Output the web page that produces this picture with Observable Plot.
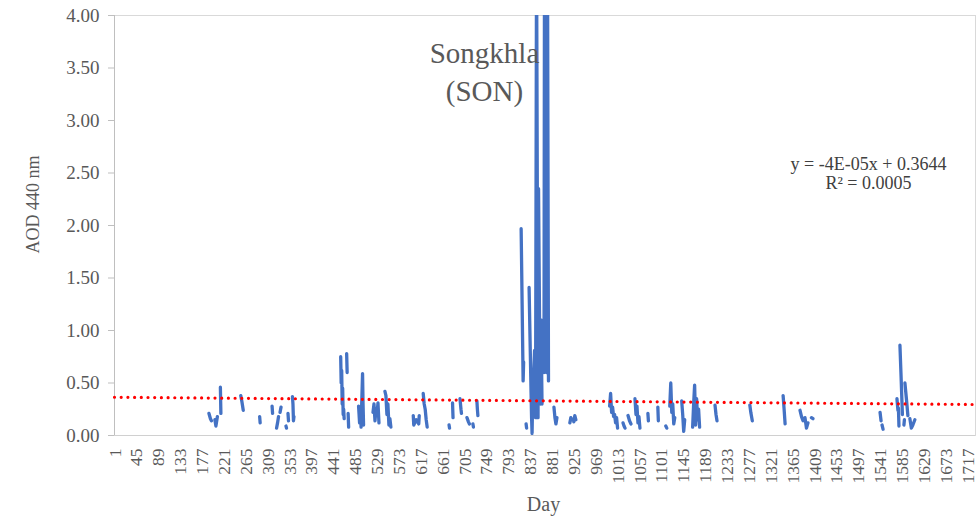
<!DOCTYPE html>
<html><head><meta charset="utf-8">
<script src="https://cdn.jsdelivr.net/npm/d3@7"></script>
<script src="https://cdn.jsdelivr.net/npm/@observablehq/plot@0.6"></script>
<style>body{margin:0;background:#fff} svg{display:block}</style>
</head><body><div id="chart"></div>
<script>
// Daily AOD 440 nm observations; null marks a gap in the record
const day = [
 190,193,195,null, 202,204,207,null, 213,214,null, 254,256,259,null, 292,293,null,
 317,318,null, 326,328,330,null, 333,335,null, 345,346,null, 349,350,null,
 358,359,360,361,null,
 455,456,457,458,459,460,461,462,null, 467,468,null, 470,471,null,
 491,493,495,496,499,500,501,null,
 520,522,524,526,528,530,532,null,
 544,546,548,550,552,554,556,null,
 601,602,607,612,613,null,
 621,623,625,627,629,null,
 673,674,null, 680,681,null, 695,697,698,null, 709,712,714,null, 721,722,null, 729,730,731,null,
 818,820,822,823,null, 828,829,null,
 834,836,838,839,840,841,842,843,845,846,847,849,852,853,855,857,858,860,null,
 864,865,867,869,871,873,null,
 884,886,888,890,null, 916,918,920,null, 924,926,928,null,
 996,998,1000,1002,1004,1006,1008,1010,1012,null,
 1023,1025,1027,null, 1033,1036,1039,null,
 1047,1049,1051,1053,1055,1057,null,
 1073,1074,null, 1093,1094,null, 1109,1111,null,
 1117,1119,1121,1123,1125,1127,null,
 1141,1143,1145,1147,null,
 1163,1165,1167,1169,1171,1173,1175,1177,null,
 1208,1210,1212,null, 1278,1280,1283,null, 1345,1347,1349,null,
 1379,1382,1385,null, 1389,1392,1395,null, 1402,1405,null,
 1540,1542,null, 1544,1546,null,
 1574,1576,1577,1578,null, 1580,1582,1584,1585,null, 1588,1589,null,
 1590,1593,1596,null, 1600,1603,1606,1610
];
const aod = [
 0.21,0.16,0.14,null, 0.15,0.09,0.18,null, 0.46,0.21,null, 0.38,0.33,0.24,null, 0.18,0.12,null,
 0.28,0.21,null, 0.07,0.12,0.18,null, 0.22,0.27,null, 0.09,0.07,null, 0.21,0.14,null,
 0.37,0.30,0.14,0.18,null,
 0.75,0.50,0.62,0.30,0.45,0.20,0.25,0.16,null, 0.78,0.60,null, 0.21,0.08,null,
 0.28,0.12,0.22,0.08,0.59,0.30,0.10,null,
 0.22,0.30,0.14,0.25,0.20,0.31,0.12,null,
 0.42,0.38,0.20,0.30,0.10,0.16,0.08,null,
 0.19,0.10,0.15,0.11,0.19,null,
 0.40,0.30,0.25,0.15,0.08,null,
 0.10,0.07,null, 0.31,0.17,null, 0.35,0.25,0.21,null, 0.17,0.13,0.11,null, 0.11,0.08,null, 0.33,0.25,0.19,null,
 1.97,1.25,0.52,0.70,null, 0.11,0.07,null,
 1.41,0.90,0.40,0.17,0.02,0.30,0.20,0.55,0.81,0.35,0.17,4.60,0.17,2.35,1.10,0.30,1.10,0.30,null,
 0.60,4.60,4.60,0.60,4.60,0.52,null,
 0.27,0.17,0.11,0.17,null, 0.12,0.17,0.15,null, 0.13,0.19,0.15,null,
 0.28,0.40,0.22,0.27,0.18,0.20,0.12,0.17,0.07,null,
 0.12,0.09,0.07,null, 0.19,0.14,0.11,null,
 0.35,0.20,0.28,0.12,0.18,0.07,null,
 0.21,0.14,null, 0.27,0.14,null, 0.09,0.07,null,
 0.28,0.50,0.22,0.30,0.11,0.17,null,
 0.33,0.20,0.04,0.15,null,
 0.08,0.30,0.48,0.10,0.35,0.15,0.25,0.08,null,
 0.29,0.20,0.14,null, 0.29,0.22,0.14,null, 0.38,0.25,0.11,null,
 0.24,0.18,0.14,null, 0.17,0.07,0.12,null, 0.17,0.16,null,
 0.22,0.14,null, 0.10,0.06,null,
 0.35,0.24,0.26,0.09,null, 0.86,0.60,0.33,0.20,null, 0.10,0.15,null,
 0.50,0.35,0.19,null, 0.16,0.07,0.10,0.15
];
// Axis ticks
const xTicks = [1,45,89,133,177,221,265,309,353,397,441,485,529,573,617,661,705,749,793,837,881,925,969,1013,1057,1101,1145,1189,1233,1277,1321,1365,1409,1453,1497,1541,1585,1629,1673,1717];
const yTicks = [0,0.5,1,1.5,2,2.5,3,3.5,4];
// Linear trend as shown on the chart: y = -4E-05x + 0.3644
const trendSlope = -4e-5;
const trendIntercept = 0.3644;
const trendDays = [0, 1732];
const titleText = "Songkhla\n(SON)";
const equationText = "y = -4E-05x + 0.3644\nR² = 0.0005";
const yTitle = "AOD 440 nm";
const xTitle = "Day";

const series = day.map((d, i) => ({day: d, aod: aod[i]}));
const trend = trendDays.map(d => ({day: d, aod: trendIntercept + trendSlope * d}));
const serif = "'Liberation Serif', 'Times New Roman', serif";

const chart = Plot.plot({
  width: 978, height: 519,
  marginLeft: 114, marginRight: 3, marginTop: 15, marginBottom: 84,
  style: {fontFamily: serif, background: "#fff"},
  x: {domain: [0, 1732]},
  y: {domain: [0, 4]},
  marks: [
    Plot.frame({stroke: "#d9d9d9"}),
    Plot.ruleX([0], {stroke: "#bfbfbf"}),
    Plot.ruleY([0], {stroke: "#d0d0d0"}),
    Plot.axisY({ticks: yTicks, tickFormat: d => d.toFixed(2), tickSize: 6, tickPadding: 9,
      fontSize: 19, fontFamily: serif, stroke: "#bfbfbf", fill: "#595959", label: null}),
    Plot.axisX({ticks: xTicks, tickFormat: d => String(d), tickRotate: -90, tickSize: 0, tickPadding: 13,
      fontSize: 17.5, fontFamily: serif, fill: "#595959", label: null}),
    Plot.line(series, {x: "day", y: "aod", stroke: "#4472C4", strokeWidth: 3.3,
      strokeLinejoin: "round", strokeLinecap: "round", clip: true}),
    Plot.line(trend, {x: "day", y: "aod", stroke: "#ff0000", strokeWidth: 3.2,
      strokeDasharray: "0 6.7", strokeLinecap: "round"}),
    Plot.text([titleText], {frameAnchor: "top-left", dx: 370, dy: 21, lineAnchor: "top",
      lineHeight: 1.31, fontSize: 29, fontFamily: serif, fill: "#595959", textAnchor: "middle"}),
    Plot.text([equationText], {frameAnchor: "top-left", dx: 754, dy: 140, lineAnchor: "top",
      lineHeight: 1.1, fontSize: 18, fontFamily: serif, fill: "#404040", textAnchor: "middle"}),
    Plot.text([yTitle], {x: () => -163, y: () => 2.2, rotate: -90,
      fontSize: 18, fontFamily: serif, fill: "#595959"}),
    Plot.text([xTitle], {x: () => 863, y: () => -0.66,
      fontSize: 20, fontFamily: serif, fill: "#595959"})
  ]
});
document.getElementById("chart").appendChild(chart);
</script>
</body></html>
